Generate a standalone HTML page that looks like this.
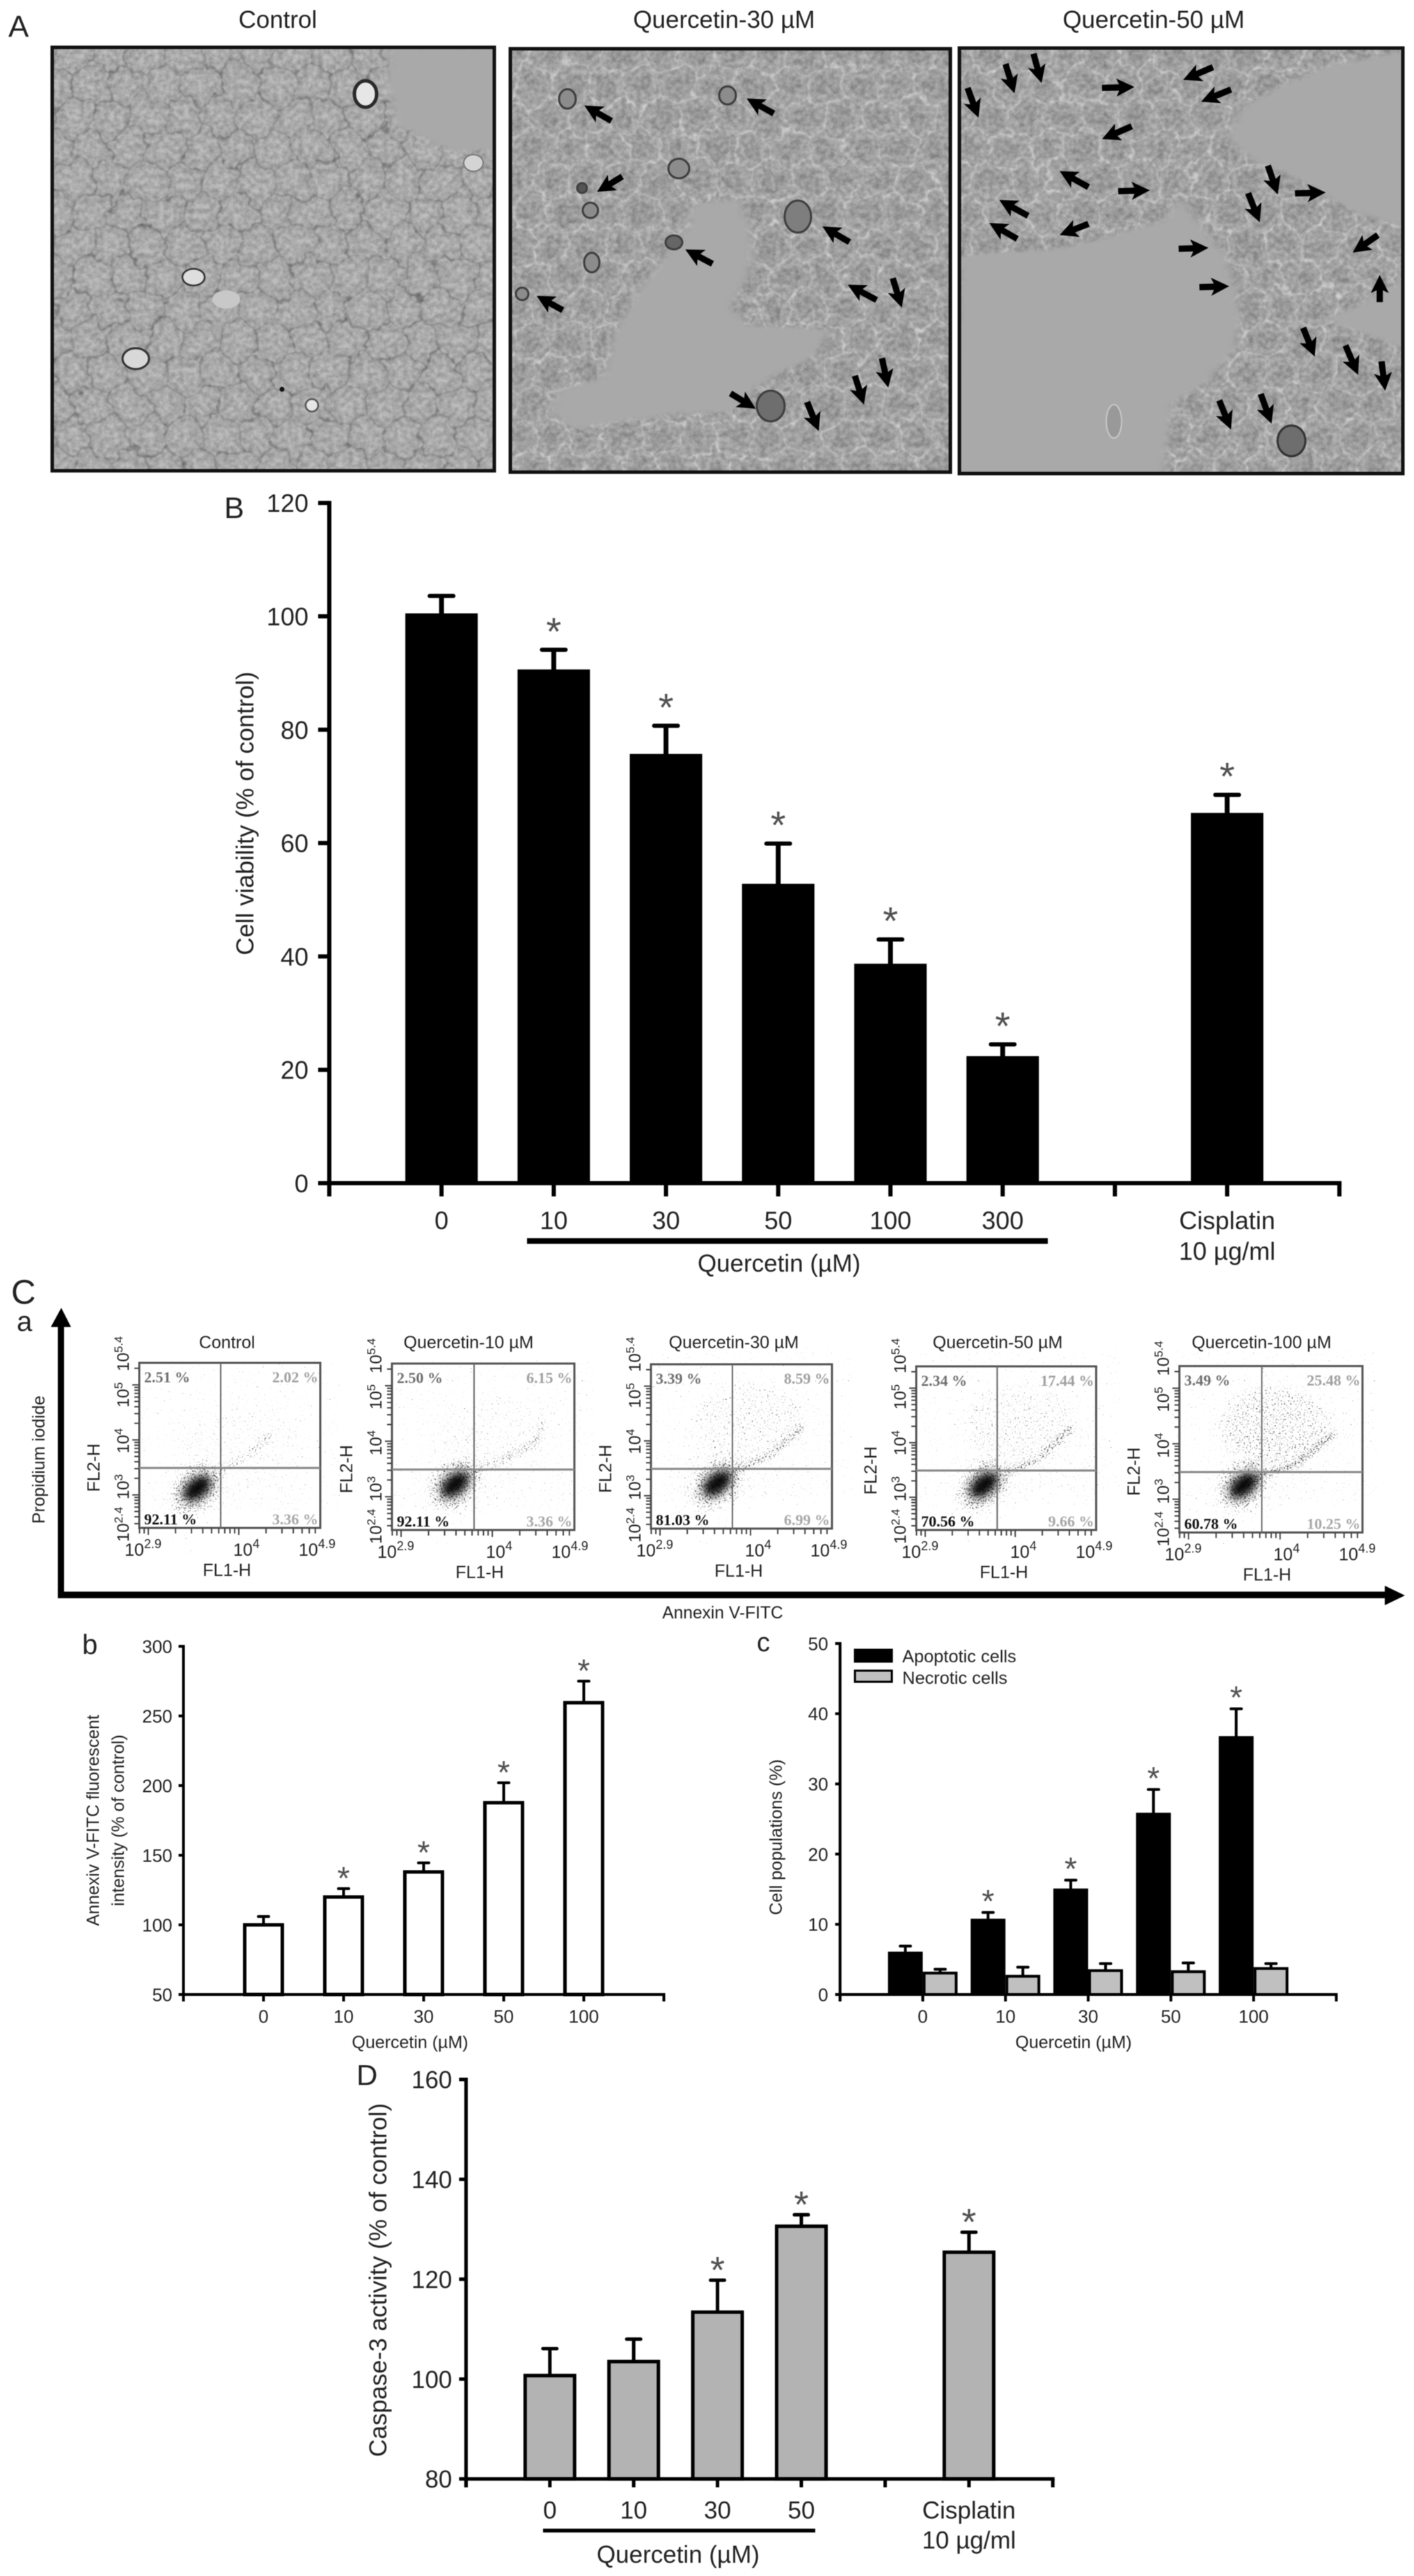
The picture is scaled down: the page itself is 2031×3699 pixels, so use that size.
<!DOCTYPE html>
<html lang="en">
<head>
<meta charset="utf-8">
<title>Quercetin cell viability and apoptosis figure</title>
<style>
html,body{margin:0;padding:0;background:#fff;width:2031px;height:3699px;overflow:hidden}
svg{display:block;filter:blur(.6px)}
text{font-family:"Liberation Sans",Arial,sans-serif;fill:#222}
</style>
</head>
<body>
<svg id="figure" xmlns="http://www.w3.org/2000/svg" width="2031" height="3699" viewBox="0 0 2031 3699">
<defs>
  <pattern id="cellsDark" width="62" height="108" patternUnits="userSpaceOnUse" patternTransform="scale(.85)">
    <path d="M31 0L62 18V54L31 72L0 54V18ZM31 72V108" fill="none" stroke="#666" stroke-opacity=".8" stroke-width="2.2"/>
    <circle cx="31" cy="36" r="17" fill="#c4c4c4" fill-opacity=".3"/>
    <circle cx="0" cy="90" r="17" fill="#c4c4c4" fill-opacity=".3"/>
    <circle cx="62" cy="90" r="17" fill="#c4c4c4" fill-opacity=".3"/>
  </pattern>
  <pattern id="cellsLight" width="62" height="108" patternUnits="userSpaceOnUse" patternTransform="scale(.85)">
    <path d="M31 0L62 18V54L31 72L0 54V18ZM31 72V108" fill="none" stroke="#d2d2d2" stroke-opacity=".85" stroke-width="2.4"/>
    <circle cx="31" cy="36" r="15" fill="#868686" fill-opacity=".35" stroke="#5c5c5c" stroke-opacity=".3" stroke-width="2"/>
    <circle cx="0" cy="90" r="15" fill="#868686" fill-opacity=".35" stroke="#5c5c5c" stroke-opacity=".3" stroke-width="2"/>
    <circle cx="62" cy="90" r="15" fill="#868686" fill-opacity=".35" stroke="#5c5c5c" stroke-opacity=".3" stroke-width="2"/>
  </pattern>
  <filter id="wobble" x="0" y="0" width="100%" height="100%">
    <feTurbulence type="fractalNoise" baseFrequency=".028" numOctaves="3" seed="7" result="t"/>
    <feDisplacementMap in="SourceGraphic" in2="t" scale="34" xChannelSelector="R" yChannelSelector="G"/>
    <feGaussianBlur stdDeviation="1"/>
  </filter>
  <filter id="grain" x="0" y="0" width="100%" height="100%" color-interpolation-filters="sRGB">
    <feTurbulence type="fractalNoise" baseFrequency=".14" numOctaves="2" seed="11"/>
    <feColorMatrix type="matrix" values="1.6 0 0 0 -.2 1.6 0 0 0 -.2 1.6 0 0 0 -.2 0 0 0 0 .16"/>
  </filter>
  <filter id="softEdge" x="-10%" y="-10%" width="120%" height="120%"><feGaussianBlur stdDeviation="5"/></filter>
  <filter id="coreBlur" x="-60%" y="-60%" width="220%" height="220%"><feGaussianBlur stdDeviation="6"/></filter>
  <filter id="speckle" x="-40%" y="-40%" width="180%" height="180%" color-interpolation-filters="sRGB">
    <feGaussianBlur in="SourceGraphic" stdDeviation="8" result="b"/>
    <feTurbulence type="fractalNoise" baseFrequency=".45" numOctaves="2" seed="4" result="n"/>
    <feColorMatrix in="n" type="matrix" values="0 0 0 0 0 0 0 0 0 0 0 0 0 0 0 1 0 0 0 0" result="na"/>
    <feComposite in="b" in2="na" operator="arithmetic" k1="0" k2="1.5" k3="6" k4="-4.5"/>
    <feComponentTransfer><feFuncA type="linear" slope=".7"/></feComponentTransfer>
  </filter>
  <filter id="speckleTight" x="-40%" y="-40%" width="180%" height="180%" color-interpolation-filters="sRGB">
    <feGaussianBlur in="SourceGraphic" stdDeviation="3" result="b"/>
    <feTurbulence type="fractalNoise" baseFrequency=".45" numOctaves="2" seed="9" result="n"/>
    <feColorMatrix in="n" type="matrix" values="0 0 0 0 0 0 0 0 0 0 0 0 0 0 0 1 0 0 0 0" result="na"/>
    <feComposite in="b" in2="na" operator="arithmetic" k1="0" k2="1.5" k3="6" k4="-4.5"/>
    <feComponentTransfer><feFuncA type="linear" slope=".7"/></feComponentTransfer>
  </filter>
  <clipPath id="clipPhoto1"><rect x="75" y="68" width="635" height="608"/></clipPath>
  <clipPath id="clipPhoto2"><rect x="733" y="70" width="632" height="608"/></clipPath>
  <clipPath id="clipPhoto3"><rect x="1378" y="69" width="637" height="611"/></clipPath>
</defs>

<rect width="2031" height="3699" fill="#fff"/>

<!-- Panel A -->
<g>
  <text x="12" y="53" font-size="44">A</text>
  <text x="399" y="40" font-size="35" text-anchor="middle">Control</text>
  <text x="1040" y="40" font-size="35" text-anchor="middle">Quercetin-30 µM</text>
  <text x="1657" y="40" font-size="35" text-anchor="middle">Quercetin-50 µM</text>

  <g clip-path="url(#clipPhoto1)">
    <rect x="75" y="68" width="635" height="608" fill="#a9a9a9"/>
    <rect x="35" y="28" width="715" height="688" fill="url(#cellsDark)" filter="url(#wobble)"/>
    <rect x="75" y="68" width="635" height="608" filter="url(#grain)"/>
    <g transform="scale(1.2953 .4592)"><polygon filter="url(#softEdge)" fill="#a9a9a9" points="430,150 560,150 560,470 500,470 440,390 430,260"/></g>
    <ellipse cx="525" cy="135" rx="16" ry="19" fill="#e6e6e6" stroke="#2a2a2a" stroke-width="5"/>
    <ellipse cx="278" cy="398" rx="16" ry="12" fill="#dedede" stroke="#333" stroke-width="2.5"/>
    <ellipse cx="195" cy="515" rx="19" ry="15" fill="#d8d8d8" stroke="#333" stroke-width="3"/>
    <ellipse cx="680" cy="234" rx="14" ry="12" fill="#d4d4d4" stroke="#777" stroke-width="2"/>
    <ellipse cx="448" cy="582" rx="9" ry="9" fill="#e6e6e6" stroke="#555" stroke-width="2.5"/>
    <ellipse cx="325" cy="430" rx="20" ry="13" fill="#c8c8c8"/>
    <circle cx="405" cy="559" r="3.5" fill="#111"/>
  </g>
  <rect x="75" y="68" width="635" height="608" fill="none" stroke="#111" stroke-width="5"/>

  <g clip-path="url(#clipPhoto2)">
    <rect x="733" y="70" width="632" height="608" fill="#a4a4a4"/>
    <rect x="693" y="30" width="712" height="688" fill="url(#cellsLight)" filter="url(#wobble)"/>
    <rect x="733" y="70" width="632" height="608" filter="url(#grain)"/>
    <g transform="scale(1.2953 .4592)"><polygon filter="url(#softEdge)" fill="#a9a9a9" points="770,640 820,625 830,700 835,790 830,860 810,960 830,1020 920,1030 905,1110 840,1200 810,1290 760,1290 700,1310 640,1340 610,1290 620,1220 670,1180 680,1050 710,900 740,800 760,720"/></g>
    <g fill="#8c8c8c" stroke="#3f3f3f" stroke-width="3">
      <ellipse cx="815" cy="142" rx="12" ry="14"/>
      <ellipse cx="1045" cy="137" rx="12" ry="13"/>
      <circle cx="836" cy="270" r="7" fill="#555"/>
      <ellipse cx="848" cy="302" rx="11" ry="11"/>
      <ellipse cx="968" cy="348" rx="12" ry="10" fill="#666"/>
      <ellipse cx="850" cy="377" rx="11" ry="14"/>
      <circle cx="750" cy="422" r="9"/>
      <ellipse cx="975" cy="242" rx="15" ry="14"/>
      <ellipse cx="1146" cy="311" rx="19" ry="23" fill="#7e7e7e"/>
      <ellipse cx="1107" cy="583" rx="20" ry="22" fill="#6e6e6e"/>
    </g>
  </g>
  <rect x="733" y="70" width="632" height="608" fill="none" stroke="#111" stroke-width="5"/>

  <g clip-path="url(#clipPhoto3)">
    <rect x="1378" y="69" width="637" height="611" fill="#a4a4a4"/>
    <rect x="1338" y="29" width="717" height="691" fill="url(#cellsLight)" filter="url(#wobble)"/>
    <rect x="1378" y="69" width="637" height="611" filter="url(#grain)"/>
    <g transform="scale(1.2953 .4592)" filter="url(#softEdge)" fill="#a9a9a9">
      <polygon points="1066,800 1100,790 1170,780 1230,740 1290,690 1310,620 1330,700 1360,800 1370,900 1375,1000 1370,1090 1335,1200 1300,1260 1290,1500 1050,1500"/>
      <polygon points="1375,340 1420,270 1470,210 1570,150 1570,720 1500,660 1440,560 1390,500 1360,430"/>
      <polygon points="1570,860 1510,950 1470,1000 1570,1100"/>
    </g>
    <ellipse cx="1855" cy="633" rx="20" ry="22" fill="#6e6e6e" stroke="#333" stroke-width="3"/>
    <ellipse cx="1600" cy="605" rx="11" ry="24" fill="#999" stroke="#c8c8c8" stroke-width="2"/>
  </g>
  <rect x="1378" y="69" width="637" height="611" fill="none" stroke="#111" stroke-width="5"/>
  <g id="photoArrows"></g>
</g>

<!-- Panel B -->
<g id="panelB">
  <text x="322" y="744" font-size="43">B</text>
  <text transform="translate(364 1168) rotate(-90)" font-size="35.4" text-anchor="middle">Cell viability (% of control)</text>
  <rect x="757" y="1778" width="748" height="8" fill="#000"/>
  <text x="1119" y="1826" font-size="35" text-anchor="middle">Quercetin (µM)</text>
</g>

<!-- Panel C a -->
<g id="panelCa">
  <text x="16" y="1872" font-size="49">C</text>
  <text x="24" y="1911" font-size="40">a</text>
  <path d="M83 2295V1905.5H73L88 1878L102 1905.5H92V2285.5H83Z" fill="#000"/>
  <path d="M83 2285.5H1989V2277L2018 2291L1989 2305V2295H83Z" fill="#000"/>
  <text transform="translate(64 2096) rotate(-90)" font-size="24.7" text-anchor="middle">Propidium iodide</text>
  <text x="1038" y="2324" font-size="24.6" text-anchor="middle">Annexin V-FITC</text>
</g>

<!-- Panel C b -->
<g id="panelCb">
  <text x="118" y="2375" font-size="40">b</text>
  <text transform="translate(142 2614) rotate(-90)" font-size="24.9" text-anchor="middle">Annexiv V-FITC fluorescent</text>
  <text transform="translate(178 2614) rotate(-90)" font-size="24.9" text-anchor="middle">intensity (% of control)</text>
  <text x="589" y="2941" font-size="25" text-anchor="middle">Quercetin (µM)</text>
</g>

<!-- Panel C c -->
<g id="panelCc">
  <text x="1087" y="2371" font-size="38">c</text>
  <text transform="translate(1123 2638) rotate(-90)" font-size="25" text-anchor="middle">Cell populations (%)</text>
  <text x="1542" y="2941" font-size="25" text-anchor="middle">Quercetin (µM)</text>
  <g>
    <rect x="1228" y="2369" width="53" height="17" fill="#000" stroke="#000" stroke-width="3"/>
    <text x="1296" y="2387" font-size="25.4">Apoptotic cells</text>
    <rect x="1228" y="2399" width="53" height="16" fill="#c0c0c0" stroke="#000" stroke-width="3"/>
    <text x="1296" y="2418" font-size="25.4">Necrotic cells</text>
  </g>
</g>

<!-- Panel D -->
<g id="panelD">
  <text x="512" y="2994" font-size="42">D</text>
  <text transform="translate(555 3274) rotate(-90)" font-size="35.3" text-anchor="middle">Caspase-3 activity (% of control)</text>
  <rect x="780" y="3631" width="391" height="5.5" fill="#000"/>
  <text x="974" y="3680" font-size="35" text-anchor="middle">Quercetin (µM)</text>
</g>

<script>
/* ---------- Panel B data ---------- */
const panelBCategories = ['0', '10', '30', '50', '100', '300', 'Cisplatin'];
const panelBSubLabels = ['', '', '', '', '', '', '10 µg/ml'];
const panelBSlots = [1, 2, 3, 4, 5, 6, 8];
const panelBValues = [100.4, 90.5, 75.6, 52.7, 38.6, 22.3, 65.2];
const panelBErrorTops = [103.6, 94.1, 80.7, 59.9, 43, 24.5, 68.5];
const panelBStars = [0, 1, 1, 1, 1, 1, 1];
const panelBYTicks = [0, 20, 40, 60, 80, 100, 120];

/* ---------- Panel C-b data ---------- */
const panelCbCategories = ['0', '10', '30', '50', '100'];
const panelCbSlots = [1, 2, 3, 4, 5];
const panelCbValues = [100, 120, 138, 187.7, 259.5];
const panelCbErrorTops = [106, 126, 144.5, 202, 275];
const panelCbStars = [0, 1, 1, 1, 1];
const panelCbYTicks = [50, 100, 150, 200, 250, 300];

/* ---------- Panel C-c data ---------- */
const panelCcCategories = ['0', '10', '30', '50', '100'];
const panelCcSlots = [1, 2, 3, 4, 5];
const apoptoticValues = [6, 10.7, 15, 25.8, 36.7];
const apoptoticErrorTops = [6.9, 11.7, 16.3, 29.2, 40.7];
const apoptoticStars = [0, 1, 1, 1, 1];
const necroticValues = [3.05, 2.6, 3.4, 3.25, 3.7];
const necroticErrorTops = [3.6, 3.9, 4.4, 4.5, 4.4];
const necroticStars = [0, 0, 0, 0, 0];
const panelCcYTicks = [0, 10, 20, 30, 40, 50];

/* ---------- Panel D data ---------- */
const panelDCategories = ['0', '10', '30', '50', 'Cisplatin'];
const panelDSubLabels = ['', '', '', '', '10 µg/ml'];
const panelDSlots = [1, 2, 3, 4, 6];
const panelDValues = [100.7, 103.5, 113.4, 130.6, 125.4];
const panelDErrorTops = [106.1, 108, 119.8, 132.9, 129.4];
const panelDStars = [0, 0, 1, 1, 1];
const panelDYTicks = [80, 100, 120, 140, 160];

/* ---------- Flow cytometry data (log10 axis units) ---------- */
const flowTitles = ['Control', 'Quercetin-10 µM', 'Quercetin-30 µM', 'Quercetin-50 µM', 'Quercetin-100 µM'];
const flowUpperLeft = ['2.51 %', '2.50 %', '3.39 %', '2.34 %', '3.49 %'];
const flowUpperRight = ['2.02 %', '6.15 %', '8.59 %', '17.44 %', '25.48 %'];
const flowLowerLeft = ['92.11 %', '92.11 %', '81.03 %', '70.56 %', '60.78 %'];
const flowLowerRight = ['3.36 %', '3.36 %', '6.99 %', '9.66 %', '10.25 %'];
const flowGateLogX = 3.8;
const flowGateLogY = 3.49;
const flowCoreLogX = [3.54, 3.59, 3.63, 3.65, 3.6];
const flowCoreLogY = [3.12, 3.22, 3.225, 3.225, 3.25];
const flowTailLogX = [[3.9, 4.14, 4.34], [3.8, 4.12, 4.46, 4.55], [3.93, 4.23, 4.55], [3.96, 4.26, 4.61], [3.84, 4.18, 4.58]];
const flowTailLogY = [[3.54, 3.75, 4.08], [3.45, 3.68, 3.96, 4.3], [3.54, 3.75, 4.23], [3.49, 3.7, 4.25], [3.47, 3.64, 4.18]];
const flowSparseLogX = [4.0, 4.0, 4.0, 4.05, 3.94];
const flowSparseLogY = [4.05, 4.1, 4.35, 4.35, 4.32];
const flowSparseDensity = [0.14, 0.16, 0.34, 0.34, 0.55];
const flowTailDensity = [0.6, 0.7, 0.8, 0.85, 0.95];
const flowFrames = [[200, 1957, 260, 237], [563, 1958, 262, 239], [935, 1959, 260, 236], [1316, 1962, 258.5, 235], [1694, 1961.6, 263, 239]];
const flowTitleCentres = [326, 673, 1054, 1433, 1812];

/* ---------- Photo annotation arrows, [tipX, tipY, tailX, tailY] in stretched-crop units ---------- */
const photo30Arrows = [[648,330,678,378],[828,308,858,355],[662,600,690,552],[912,708,942,757],[760,780,790,825],[940,890,972,938],[1000,962,990,870],[595,925,624,970],[985,1212,978,1120],[958,1265,948,1175],[838,1278,810,1230],[908,1348,895,1257]];
const photo50Arrows = [[1125,292,1115,200],[1155,260,1146,168],[1085,368,1073,275],[1258,272,1222,275],[1312,250,1345,210],[1332,318,1365,280],[1222,435,1255,395],[1175,535,1207,585],[1275,595,1240,598],[1108,625,1140,675],[1097,697,1128,747],[1175,735,1207,700],[1417,608,1406,518],[1470,602,1436,605],[1397,695,1384,604],[1340,775,1307,778],[1500,790,1528,735],[1363,895,1330,898],[1530,860,1530,945],[1458,1115,1445,1025],[1506,1172,1492,1080],[1536,1222,1532,1130],[1365,1343,1352,1252],[1410,1325,1398,1232]];

const SVGNS = 'http://www.w3.org/2000/svg';
function mk(tag, attrs, parent) {
  const n = document.createElementNS(SVGNS, tag);
  for (const k in attrs) n.setAttribute(k, attrs[k]);
  parent.appendChild(n);
  return n;
}
function slug(s) { return String(s).toLowerCase().replace(/[^a-z0-9]+/g, '-'); }
function label(parent, str, x, yc, size, anchor) {
  const t = mk('text', { x: x, y: yc + 0.36 * size, 'font-size': size, 'text-anchor': anchor }, parent);
  t.textContent = str;
  return t;
}

/* ---------- Bar chart axis functions and drawing ---------- */
function yPos(cfg, v) { return cfg.y0 - (v - cfg.vMin) * cfg.pxPerUnit; }
function xPos(cfg, slot) { return cfg.x0 + slot * cfg.step; }

function drawSeries(cfg, parent, name, slots, cats, vals, errs, stars, style) {
  slots.forEach(function (slot, i) {
    const cx = xPos(cfg, slot) + (style.offset || 0);
    const top = yPos(cfg, vals[i]);
    const errY = yPos(cfg, errs[i]);
    const stem = mk('line', { x1: cx, x2: cx, y1: top, y2: errY, stroke: '#000', 'stroke-width': style.stem }, parent);
    
    
    const cap = mk('line', { x1: cx - style.capW / 2, x2: cx + style.capW / 2, y1: errY, y2: errY, stroke: '#000', 'stroke-width': style.capH, 'stroke-linecap': 'round' }, parent);
    
    
    const bar = mk('rect', { x: cx - style.w / 2, y: top, width: style.w, height: Math.max(0, cfg.y0 - top), fill: style.fill, stroke: '#000', 'stroke-width': style.stroke }, parent);
    
    
    if (stars[i]) {
      const fs = style.starSize;
      const star = mk('text', { x: cx, y: errY - style.starGap + 0.585 * fs, 'font-size': fs, 'text-anchor': 'middle', style: 'fill:#505050' }, parent);
      star.textContent = '*';
      
      
    }
  });
}

function drawAxes(cfg, parent, name, yTicks, slots, cats, subs) {
  const last = yTicks[yTicks.length - 1];
  const yAxis = mk('line', { x1: cfg.x0, x2: cfg.x0, y1: yPos(cfg, last) - cfg.axisW / 2, y2: cfg.y0 + cfg.tickLen, stroke: '#000', 'stroke-width': cfg.axisW }, parent);
  
  
  const xAxis = mk('line', { x1: cfg.x0, x2: xPos(cfg, cfg.slotCount) + cfg.axisW / 2, y1: cfg.y0, y2: cfg.y0, stroke: '#000', 'stroke-width': cfg.axisW }, parent);
  
  
  yTicks.forEach(function (v) {
    const y = yPos(cfg, v);
    const tick = mk('line', { x1: cfg.x0 - cfg.yTickLen, x2: cfg.x0, y1: y, y2: y, stroke: '#000', 'stroke-width': cfg.axisW }, parent);
    
    
    const t = label(parent, String(v), cfg.x0 - cfg.yLabelGap, y, cfg.fs, 'end');
    
    
  });
  for (let s = 0; s <= cfg.slotCount; s++) {
    const x = xPos(cfg, s);
    const tick = mk('line', { x1: x, x2: x, y1: cfg.y0, y2: cfg.y0 + cfg.tickLen, stroke: '#000', 'stroke-width': cfg.axisW }, parent);
    
    
  }
  slots.forEach(function (slot, i) {
    const t = label(parent, cats[i], xPos(cfg, slot) + (cfg.labelShift || 0), cfg.xLabelY, cfg.fs, 'middle');
    
    
    if (subs && subs[i]) {
      const u = label(parent, subs[i], xPos(cfg, slot) + (cfg.labelShift || 0), cfg.xSubLabelY, cfg.fs, 'middle');
      
      
    }
  });
}

/* Panel B */
const cfgB = { x0: 473, step: 161.2, slotCount: 9, y0: 1699, vMin: 0, pxPerUnit: 8.14, axisW: 6, tickLen: 19, yTickLen: 16, yLabelGap: 30, fs: 36, xLabelY: 1752, xSubLabelY: 1796 };
const gB = document.getElementById('panelB');
drawSeries(cfgB, gB, 'viability', panelBSlots, panelBCategories, panelBValues, panelBErrorTops, panelBStars,
  { w: 102, fill: '#000', stroke: 2, stem: 7, capW: 34, capH: 6, starSize: 56, starGap: 40 });
drawAxes(cfgB, gB, 'viability', panelBYTicks, panelBSlots, panelBCategories, panelBSubLabels);

/* Panel C b */
const cfgCb = { x0: 263.5, step: 115, slotCount: 6, y0: 2864, vMin: 50, pxPerUnit: 2, axisW: 4, tickLen: 10, yTickLen: 7, yLabelGap: 16, fs: 26, xLabelY: 2895 };
const gCb = document.getElementById('panelCb');
drawSeries(cfgCb, gCb, 'annexin', panelCbSlots, panelCbCategories, panelCbValues, panelCbErrorTops, panelCbStars,
  { w: 54, fill: '#fff', stroke: 5, stem: 4, capW: 15, capH: 4, starSize: 46, starGap: 26 });
drawAxes(cfgCb, gCb, 'annexin', panelCbYTicks, panelCbSlots, panelCbCategories);

/* Panel C c */
const cfgCc = { x0: 1206.6, step: 118.8, slotCount: 6, y0: 2864, vMin: 0, pxPerUnit: 10.08, axisW: 4, tickLen: 10, yTickLen: 7, yLabelGap: 17, fs: 26, xLabelY: 2895 };
const gCc = document.getElementById('panelCc');
drawSeries(cfgCc, gCc, 'apoptotic', panelCcSlots, panelCcCategories, apoptoticValues, apoptoticErrorTops, apoptoticStars,
  { w: 48, offset: -25, fill: '#000', stroke: 2, stem: 4, capW: 15, capH: 4, starSize: 46, starGap: 27 });
drawSeries(cfgCc, gCc, 'necrotic', panelCcSlots, panelCcCategories, necroticValues, necroticErrorTops, necroticStars,
  { w: 46, offset: 25, fill: '#c0c0c0', stroke: 4, stem: 4, capW: 15, capH: 4, starSize: 46, starGap: 27 });
drawAxes(cfgCc, gCc, 'populations', panelCcYTicks, panelCcSlots, panelCcCategories);

/* Panel D */
const cfgD = { x0: 669.4, step: 120.4, slotCount: 7, y0: 3559.6, vMin: 80, pxPerUnit: 7.17, axisW: 5, tickLen: 12, yTickLen: 10, yLabelGap: 20, fs: 35, xLabelY: 3604, xSubLabelY: 3647 };
const gD = document.getElementById('panelD');
drawSeries(cfgD, gD, 'caspase', panelDSlots, panelDCategories, panelDValues, panelDErrorTops, panelDStars,
  { w: 71, fill: '#b3b3b3', stroke: 5, stem: 5, capW: 20, capH: 5, starSize: 54, starGap: 28 });
drawAxes(cfgD, gD, 'caspase', panelDYTicks, panelDSlots, panelDCategories, panelDSubLabels);

/* ---------- Flow cytometry axis functions ---------- */
function flowX(f, logV) { return f[0] + (logV - 2.9) / 2 * f[2]; }
function flowY(f, logV) { return f[1] + f[3] - (logV - 2.4) / 3 * f[3]; }

const gFlow = document.getElementById('panelCa');
flowFrames.forEach(function (f, p) {
  const name = 'flow-' + slug(flowTitles[p]);
  const g = mk('g', {}, gFlow);
  
  

  const sparse = mk('ellipse', { cx: flowX(f, flowSparseLogX[p]), cy: flowY(f, flowSparseLogY[p]), rx: 0.31 * f[2], ry: 0.25 * f[3], fill: '#000', 'fill-opacity': flowSparseDensity[p], filter: 'url(#speckle)' }, g);
  
  

  const tx = flowTailLogX[p], ty = flowTailLogY[p];
  let d = 'M' + flowX(f, flowCoreLogX[p]) + ' ' + flowY(f, flowCoreLogY[p]);
  tx.forEach(function (lx, i) { d += 'L' + flowX(f, lx) + ' ' + flowY(f, ty[i]); });
  const tail = mk('path', { d: d, fill: 'none', stroke: '#000', 'stroke-width': 13, 'stroke-linejoin': 'round', 'stroke-linecap': 'round', 'stroke-opacity': flowTailDensity[p], filter: 'url(#speckleTight)' }, g);
  
  

  const cx = flowX(f, flowCoreLogX[p]), cy = flowY(f, flowCoreLogY[p]);
  const halo = mk('ellipse', { cx: cx, cy: cy, rx: 44, ry: 32, fill: '#000', 'fill-opacity': 0.95, transform: 'rotate(-45 ' + cx + ' ' + cy + ')', filter: 'url(#speckle)' }, g);
  
  
  const core = mk('ellipse', { cx: cx, cy: cy, rx: 23, ry: 14, fill: '#000', opacity: 0.95, transform: 'rotate(-40 ' + cx + ' ' + cy + ')', filter: 'url(#coreBlur)' }, g);
  
  

  const box = mk('rect', { x: f[0], y: f[1], width: f[2], height: f[3], fill: 'none', stroke: '#555', 'stroke-width': 3 }, g);
  
  
  const gateV = mk('line', { x1: flowX(f, flowGateLogX), x2: flowX(f, flowGateLogX), y1: f[1], y2: f[1] + f[3], stroke: '#666', 'stroke-width': 2 }, g);
  
  
  const gateH = mk('line', { x1: f[0], x2: f[0] + f[2], y1: flowY(f, flowGateLogY), y2: flowY(f, flowGateLogY), stroke: '#888', 'stroke-width': 3 }, g);
  
  

  for (let dec = 2; dec <= 5; dec++) {
    for (let m = 1; m <= 9; m++) {
      const lv = dec + Math.log10(m);
      if (lv >= 2.4 && lv <= 5.4) {
        const y = flowY(f, lv);
        const tk = mk('line', { x1: f[0] - (m === 1 ? 10 : 7), x2: f[0], y1: y, y2: y, stroke: '#444', 'stroke-width': 2 }, g);
        
        
      }
      if (lv >= 2.9 && lv <= 4.9) {
        const x = flowX(f, lv);
        const tk = mk('line', { x1: x, x2: x, y1: f[1] + f[3], y2: f[1] + f[3] + (m === 1 ? 10 : 8), stroke: '#444', 'stroke-width': 2 }, g);
        
        
      }
    }
  }

  const title = label(g, flowTitles[p], flowTitleCentres[p], 1927, 25, 'middle');
  
  

  const fl1 = label(g, 'FL1-H', f[0] + 126, f[1] + f[3] + 60, 25, 'middle');
  
  

  const fl2 = mk('text', { transform: 'translate(' + (f[0] - 57) + ' ' + (f[1] + f[3] / 2 + 32) + ') rotate(-90)', 'font-size': 25, 'text-anchor': 'middle' }, g);
  fl2.textContent = 'FL2-H';
  
  

  /* percentage labels */
  [[flowUpperLeft[p], f[0] + 7, f[1] + 28, 'start', '#6f6f6f', 'ul'],
   [flowUpperRight[p], f[0] + f[2] - 3, f[1] + 28, 'end', '#a0a0a0', 'ur'],
   [flowLowerLeft[p], f[0] + 7, f[1] + f[3] - 5, 'start', '#111', 'll'],
   [flowLowerRight[p], f[0] + f[2] - 3, f[1] + f[3] - 5, 'end', '#a8a8a8', 'lr']].forEach(function (q) {
    const t = mk('text', { x: q[1], y: q[2], 'text-anchor': q[3], 'font-size': 22, 'font-weight': 'bold', style: 'font-family:"Liberation Serif",serif;fill:' + q[4] }, g);
    t.textContent = q[0];
    
    
  });

  /* x exponent tick labels */
  [['2.9', -21], ['4', 135], ['4.9', 229]].forEach(function (e) {
    const t = mk('text', { x: f[0] + e[1], y: f[1] + f[3] + 40, 'font-size': 25 }, g);
    t.textContent = '10';
    const sup = mk('tspan', { dy: -11, 'font-size': 18 }, t);
    sup.textContent = e[0];
    
    
  });
  /* y exponent tick labels */
  [['2.4', 20], ['3', -41], ['4', -107], ['5', -173], ['5.4', -225]].forEach(function (e) {
    const t = mk('text', { transform: 'translate(' + (f[0] - 15) + ' ' + (f[1] + f[3] + e[1]) + ') rotate(-90)', 'font-size': 24 }, g);
    t.textContent = '10';
    const sup = mk('tspan', { dy: -9, 'font-size': 17 }, t);
    sup.textContent = e[0];
    
    
  });
});

/* ---------- Photo arrows ---------- */
const gArrows = document.getElementById('photoArrows');
function drawPhotoArrow(a, name) {
  const tipX = a[0] * 1.2953, tipY = a[1] * 0.4592, tailX = a[2] * 1.2953, tailY = a[3] * 0.4592;
  const len = Math.hypot(tipX - tailX, tipY - tailY);
  const ux = (tipX - tailX) / len, uy = (tipY - tailY) / len;
  const nx = -uy, ny = ux;
  const hl = 22, hw = 13, sw = 4.5;
  const bx = tipX - ux * hl, by = tipY - uy * hl;
  const nb = 4;
  const pts = [
    [tipX, tipY],
    [bx - ux * nb + nx * hw, by - uy * nb + ny * hw],
    [bx + nx * sw, by + ny * sw],
    [tailX + nx * sw, tailY + ny * sw],
    [tailX - nx * sw, tailY - ny * sw],
    [bx - nx * sw, by - ny * sw],
    [bx - ux * nb - nx * hw, by - uy * nb - ny * hw]
  ];
  const arrow = mk('polygon', { points: pts.map(function (q) { return q[0].toFixed(1) + ',' + q[1].toFixed(1); }).join(' '), fill: '#000' }, gArrows);
  
  
}
photo30Arrows.forEach(function (a, i) { drawPhotoArrow(a, 'quercetin-30-arrow-' + (i + 1)); });
photo50Arrows.forEach(function (a, i) { drawPhotoArrow(a, 'quercetin-50-arrow-' + (i + 1)); });
</script>
</svg>
</body>
</html>
